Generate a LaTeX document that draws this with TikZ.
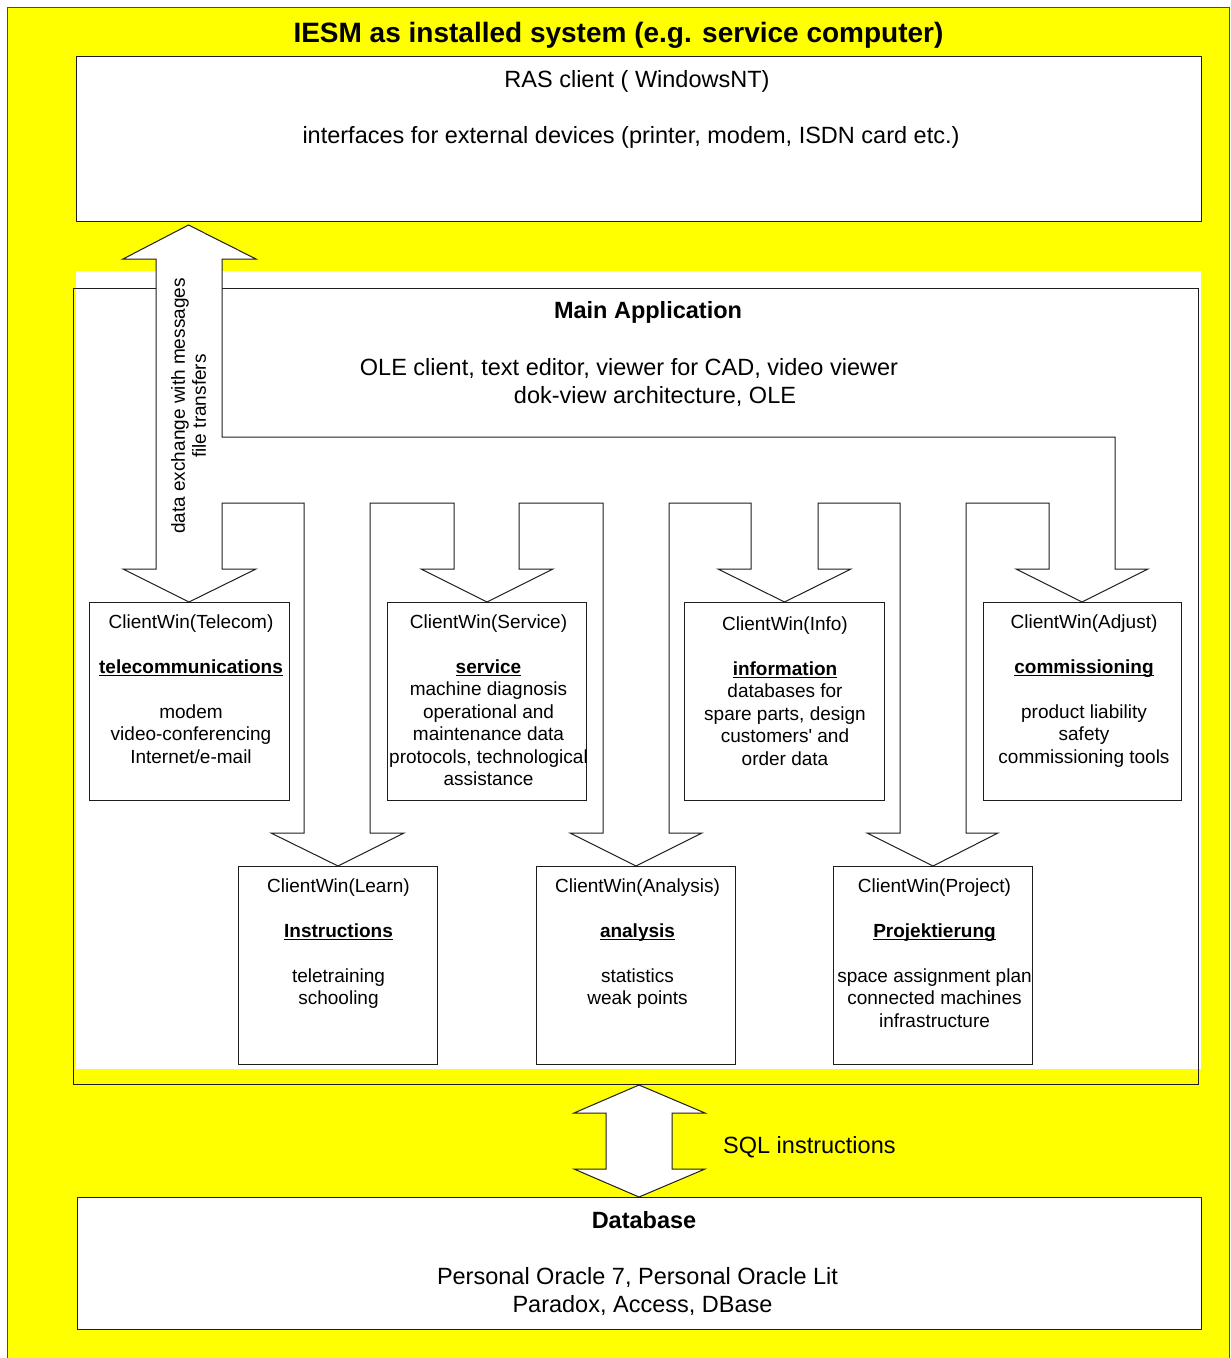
\documentclass[tikz,border=0pt]{standalone}
\usepackage{fontspec}
\setmainfont{Liberation Sans}
\usetikzlibrary{calc}
\definecolor{ylw}{RGB}{255,255,0}
\definecolor{edge}{RGB}{30,30,30}
\newcommand\ulbf[1]{\underline{\smash{\textbf{#1}}}}
\begin{document}
\begin{tikzpicture}[x=1pt,y=-1pt,
  frame/.style={draw=edge, line width=1pt, fill=white, inner sep=0pt, outer sep=0pt, anchor=north west},
  clientbox/.style={frame, minimum width=199pt, minimum height=198pt},
  clienttext/.style={anchor=north, align=center, inner sep=0pt, font=\fontsize{19}{22.4}\selectfont},
  bigtext/.style={anchor=base, inner sep=0pt, font=\fontsize{23.5}{28}\selectfont},
  bigbold/.style={bigtext, font=\fontsize{23.5}{28}\selectfont\bfseries},
  blockarrow/.style={draw=edge, line width=1pt, fill=white}
]
\useasboundingbox (0,0) rectangle (1231,1358);
\fill[ylw] (7,7) rectangle (1229,1370);
\draw[edge!80, line width=1pt] (7,1370) -- (7,7) -- (1229,7) -- (1229,1370);

% title
\node[anchor=base, inner sep=0pt, font=\fontsize{28}{32}\selectfont\bfseries] (title) at (618.5,42) {IESM as installed system (e.g. service computer)};

% RAS client box
\node[frame, minimum width=1125pt, minimum height=165pt] (ras) at (76,56) {};
\node[bigtext] (rasA) at (637,87.5) {RAS client ( WindowsNT)};
\node[bigtext] (rasB) at (631,143.5) {interfaces for external devices (printer, modem, ISDN card etc.)};

% main application
\fill[white] (76,271) rectangle (1201,1069);
\node[frame, fill=none, minimum width=1125pt, minimum height=796pt] (main) at (73,288) {};
\node[bigbold] (mainA) at (648,318.5) {Main Application};
\node[bigtext] (mainB) at (629,375.5) {OLE client, text editor, viewer for CAD, video viewer};
\node[bigtext] (mainC) at (655,403.5) {dok-view architecture, OLE};

% branching block arrow
\draw[blockarrow] (188.5,225) -- (256,259) -- (222,259) -- (222,437) -- (1115,437)
  -- (1115,569) -- (1148,569) -- (1082,602) -- (1016,569) -- (1049,569) -- (1049,503)
  -- (966,503) -- (966,833) -- (998,833) -- (933,866) -- (867,833) -- (900,833) -- (900,503)
  -- (818,503) -- (818,569) -- (851,569) -- (784.5,602) -- (718,569) -- (751,569) -- (751,503)
  -- (669,503) -- (669,833) -- (702,833) -- (636,866) -- (570,833) -- (603,833) -- (603,503)
  -- (519,503) -- (519,569) -- (553,569) -- (487,602) -- (421,569) -- (454,569) -- (454,503)
  -- (370,503) -- (370,833) -- (404,833) -- (338,866) -- (271,833) -- (304,833) -- (304,503)
  -- (222,503) -- (222,569) -- (256,569) -- (189,602) -- (123,569) -- (156,569) -- (156,259)
  -- (123,259) -- cycle;
\node[rotate=90, align=center, inner sep=0pt, font=\fontsize{19}{21}\selectfont] (dx) at (188.5,406)
  {data exchange with messages\\file transfers};

% client windows
\node[clientbox, minimum width=200pt] (telecom) at (89,602) {};
\node[clientbox] (service) at (387,602) {};
\node[clientbox, minimum width=200pt] (info) at (684,602) {};
\node[clientbox, minimum width=198pt] (adjust) at (983,602) {};
\node[clientbox] (learn) at (238,866) {};
\node[clientbox] (analysis) at (536,866) {};
\node[clientbox] (project) at (833,866) {};

\node[clienttext] (telecomT) at ($(telecom.north)+(2,10.5)$)
  {\rule{0pt}{16pt}ClientWin(Telecom)\\[22.4pt]\ulbf{telecommunications}\\[22.4pt]modem\\video-conferencing\\Internet/e-mail};
\node[clienttext] (serviceT) at ($(service.north)+(2,10.5)$)
  {\rule{0pt}{16pt}ClientWin(Service)\\[22.4pt]\ulbf{service}\\machine diagnosis\\operational and\\maintenance data\\protocols, technological\\assistance};
\node[clienttext] (infoT) at ($(info.north)+(1,12.5)$)
  {\rule{0pt}{16pt}ClientWin(Info)\\[22.4pt]\ulbf{information}\\databases for\\spare parts, design\\customers\textquotesingle{} and\\order data};
\node[clienttext] (adjustT) at ($(adjust.north)+(2,10.5)$)
  {\rule{0pt}{16pt}ClientWin(Adjust)\\[22.4pt]\ulbf{commissioning}\\[22.4pt]product liability\\safety\\commissioning tools};
\node[clienttext] (learnT) at ($(learn.north)+(1,10.5)$)
  {\rule{0pt}{16pt}ClientWin(Learn)\\[22.4pt]\ulbf{Instructions}\\[22.4pt]teletraining\\schooling};
\node[clienttext] (analysisT) at ($(analysis.north)+(2,10.5)$)
  {\rule{0pt}{16pt}ClientWin(Analysis)\\[22.4pt]\ulbf{analysis}\\[22.4pt]statistics\\weak points};
\node[clienttext] (projectT) at ($(project.north)+(2,10.5)$)
  {\rule{0pt}{16pt}ClientWin(Project)\\[22.4pt]\ulbf{Projektierung}\\[22.4pt]space assignment plan\\connected machines\\infrastructure};

% database
\node[frame, minimum width=1124pt, minimum height=132pt] (db) at (77,1197) {};
\draw[blockarrow] (639,1085) -- (705,1113) -- (672,1113) -- (672,1169) -- (705,1169) -- (639,1197)
  -- (574,1169) -- (606,1169) -- (606,1113) -- (574,1113) -- cycle;
\node[bigtext, anchor=base west] (sql) at (723,1153.5) {SQL instructions};
\node[bigbold] (dbA) at (644,1228.5) {Database};
\node[bigtext] (dbB) at (637.5,1284.5) {Personal Oracle 7, Personal Oracle Lit};
\node[bigtext] (dbC) at (642.5,1312.5) {Paradox, Access, DBase};
\end{tikzpicture}
\end{document}
